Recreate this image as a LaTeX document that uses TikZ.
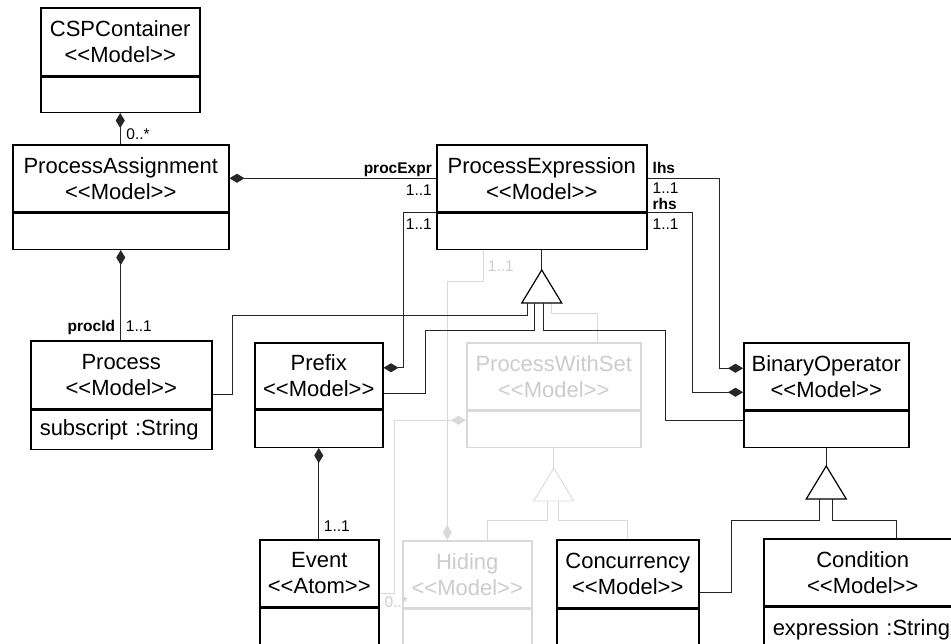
\documentclass[tikz,border=0pt]{standalone}
\usepackage{fontspec}
\setmainfont{Liberation Sans}
\usetikzlibrary{arrows.meta,positioning}
\newcommand{\stereo}[1]{<\kern0pt<#1>\kern0pt>}

\begin{document}
\begin{tikzpicture}[x=1pt, y=-1pt,
    cls/.style={draw, line width=1.5pt, inner sep=0pt, align=center,
      font=\fontsize{22}{26}\selectfont, anchor=north west},
    body/.style={draw, line width=1.5pt, inner xsep=9pt, inner ysep=0pt,
      align=left, font=\fontsize{22}{26}\selectfont, anchor=north},
    ghost/.style={draw=black!15, text=black!20},
    conn/.style={draw=black!85, line width=0.9pt},
    gconn/.style={conn, draw=black!15},
    comp/.style={conn, {Diamond[length=15pt, width=9pt]}-},
    gcomp/.style={comp, draw=black!15},
    gen/.style={draw=black, line width=1.2pt},
    mult/.style={font=\fontsize{15.5}{18}\selectfont, inner sep=0pt},
    role/.style={mult, font=\fontsize{15.5}{18}\selectfont\bfseries},
  ]
    \clip (0,0) rectangle (951,643);

    % classes
    \node[cls, minimum width=159pt, minimum height=68pt] (csp) at (40,7) {CSPContainer\\\stereo{Model}};
    \node[body, minimum width=159pt, minimum height=35pt] (csp-b) at (csp.south) {};
    \node[cls, minimum width=216pt, minimum height=67pt] (pa) at (12,144) {ProcessAssignment\\\stereo{Model}};
    \node[body, minimum width=216pt, minimum height=36pt] (pa-b) at (pa.south) {};
    \node[cls, minimum width=210pt, minimum height=67pt] (pe) at (436,144) {ProcessExpression\\\stereo{Model}};
    \node[body, minimum width=210pt, minimum height=36pt] (pe-b) at (pe.south) {};
    \node[cls, minimum width=181pt, minimum height=68pt] (proc) at (30,340) {Process\\\stereo{Model}};
    \node[body, minimum width=181pt, minimum height=39pt, text width=163pt] (proc-b) at (proc.south) {subscript :String};
    \node[cls, minimum width=128pt, minimum height=66pt] (pfx) at (254,342) {Prefix\\\stereo{Model}};
    \node[body, minimum width=128pt, minimum height=37pt] (pfx-b) at (pfx.south) {};
    \node[cls, ghost, minimum width=174pt, minimum height=67pt] (pws) at (466,342) {ProcessWithSet\\\stereo{Model}};
    \node[body, ghost, minimum width=174pt, minimum height=36pt] (pws-b) at (pws.south) {};
    \node[cls, minimum width=165pt, minimum height=67pt] (bin) at (743,342) {BinaryOperator\\\stereo{Model}};
    \node[body, minimum width=165pt, minimum height=36pt] (bin-b) at (bin.south) {};
    \node[cls, minimum width=119pt, minimum height=67pt] (evt) at (259,539) {Event\\\stereo{Atom}};
    \node[body, minimum width=119pt, minimum height=36pt] (evt-b) at (evt.south) {};
    \node[cls, ghost, minimum width=129pt, minimum height=67pt] (hid) at (402,540) {Hiding\\\stereo{Model}};
    \node[body, ghost, minimum width=129pt, minimum height=35pt] (hid-b) at (hid.south) {};
    \node[cls, minimum width=142pt, minimum height=68pt] (conc) at (556,539) {Concurrency\\\stereo{Model}};
    \node[body, minimum width=142pt, minimum height=35pt] (conc-b) at (conc.south) {};
    \node[cls, minimum width=198pt, minimum height=67pt] (cond) at (763,538) {Condition\\\stereo{Model}};
    \node[body, minimum width=198pt, minimum height=45pt, text width=180pt] (cond-b) at (cond.south) {expression :String};

    % generalization heads
    \coordinate (pe-tip) at ([yshift=-20pt]pe-b.south);
    \coordinate (pe-base) at ([yshift=-33pt]pe-tip);
    \coordinate (pws-tip) at ([yshift=-20pt]pws-b.south);
    \coordinate (pws-base) at ([yshift=-33pt]pws-tip);
    \coordinate (bin-tip) at ([yshift=-18pt]bin-b.south);
    \coordinate (bin-base) at ([yshift=-33pt]bin-tip);

    % greyed-out part
    \draw[gconn] (pws-b.south) -- (pws-tip);
    \draw[gconn] (pws-tip) -- ([xshift=-20pt]pws-base) -- ([xshift=20pt]pws-base) -- cycle;
    \draw[gconn] ([xshift=-6pt]pws-base) -- ++(0,-19pt) -| ([xshift=20pt]hid.north);
    \draw[gconn] ([xshift=5pt]pws-base) -- ++(0,-19pt) -| (conc.north);
    \draw[gconn] ([xshift=10pt]pe-base) -- ++(0,-10pt) -| ([xshift=44pt]pws.north);
    \draw[gcomp] ([xshift=-20pt]hid.north) |- ([xshift=-58pt,yshift=-31pt]pe-b.south) -- ([xshift=-58pt]pe-b.south);
    \draw[gcomp] ([yshift=9pt]pws-b.west) -| ([xshift=15pt,yshift=-20pt]evt.east) -- ([yshift=-20pt]evt.east);
    \node[mult, text=black!20, anchor=base west] (m-hid) at ([xshift=-54pt,yshift=-21pt]pe-b.south) {1..1};
    \node[mult, text=black!20, anchor=base west] (m-evt) at ([xshift=5pt,yshift=-34.5pt]evt.east) {0..*};

    % compositions
    \draw[comp] (csp-b.south) -- (csp-b.south |- pa.north);
    \draw[comp] (pa.east) -- (pe.west);
    \draw[comp] ([yshift=8pt]bin.west) -| ([xshift=72pt]pe.east) -- (pe.east);
    \draw[comp] ([yshift=-16pt]bin.west) -| ([xshift=45pt]pe.south east) -- (pe.south east);
    \draw[comp] ([yshift=8pt]pfx.east) -| ([xshift=-33pt]pe.south west) -- (pe.south west);
    \draw[comp] (pa-b.south) -- (pa-b.south |- proc.north);
    \draw[comp] (pfx-b.south) -- (pfx-b.south |- evt.north);

    \node[mult, anchor=base west] (m-pa) at ([xshift=6pt,yshift=-26.5pt]csp-b.south) {0..*};
    \node[role, anchor=base east] (r-expr) at ([xshift=-4pt,yshift=4.5pt]pe.west) {procExpr};
    \node[mult, anchor=base east] (m-expr) at ([xshift=-4pt,yshift=-17.5pt]pe.west) {1..1};
    \node[role, anchor=base west] (r-lhs) at ([xshift=5pt,yshift=4.5pt]pe.east) {lhs};
    \node[mult, anchor=base west] (m-lhs) at ([xshift=5pt,yshift=-15pt]pe.east) {1..1};
    \node[role, anchor=base west] (r-rhs) at ([xshift=5pt,yshift=3.5pt]pe.south east) {rhs};
    \node[mult, anchor=base west] (m-rhs) at ([xshift=5pt,yshift=-17pt]pe.south east) {1..1};
    \node[mult, anchor=base east] (m-pfx) at ([xshift=-4pt,yshift=-17pt]pe.south west) {1..1};
    \node[role, anchor=base east] (r-id) at ([xshift=-6pt,yshift=8.3pt]proc.north) {procId};
    \node[mult, anchor=base west] (m-id) at ([xshift=4.5pt,yshift=8.3pt]proc.north) {1..1};
    \node[mult, anchor=base west] (m-evt1) at ([xshift=4.5pt,yshift=8pt]evt.north) {1..1};

    % generalizations
    \draw[conn] (pe-b.south) -- (pe-tip);
    \draw[gen] (pe-tip) -- ([xshift=-20pt]pe-base) -- ([xshift=20pt]pe-base) -- cycle;
    \draw[conn] ([yshift=-20pt]proc.east) -- ++(20pt,0) |- ([xshift=-14pt,yshift=-12pt]pe-base) -- ([xshift=-14pt]pe-base);
    \draw[conn] ([yshift=-18pt]pfx.east) -- ++(42pt,0) |- ([xshift=-7pt,yshift=-27pt]pe-base) -- ([xshift=-7pt]pe-base);
    \draw[conn] ([yshift=9pt]bin-b.west) -- ++(-78pt,0) |- ([xshift=2pt,yshift=-27pt]pe-base) -- ([xshift=2pt]pe-base);

    \draw[conn] (bin-b.south) -- (bin-tip);
    \draw[gen] (bin-tip) -- ([xshift=-20pt]bin-base) -- ([xshift=20pt]bin-base) -- cycle;
    \draw[conn] ([yshift=-19pt]conc.east) -- ++(32pt,0) |- ([xshift=-7pt,yshift=-21pt]bin-base) -- ([xshift=-7pt]bin-base);
    \draw[conn] ([xshift=6pt]bin-base) -- ++(0,-21pt) -| ([xshift=34pt]cond.north);
  \end{tikzpicture}
\end{document}
